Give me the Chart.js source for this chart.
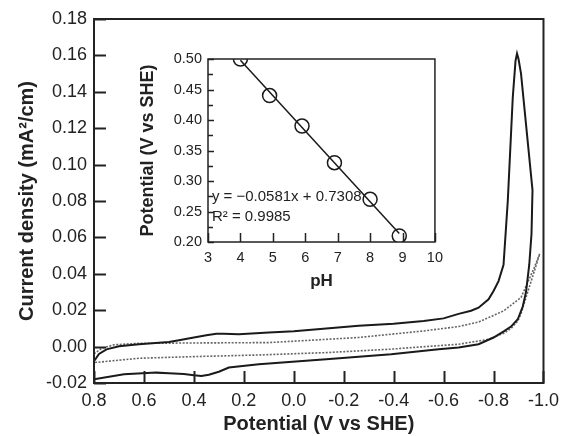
<!DOCTYPE html>
<html>
<head>
<meta charset="utf-8">
<script src="https://cdn.jsdelivr.net/npm/chart.js@4/dist/chart.umd.min.js"></script>
<style>
  body { margin: 0; background: #fff; }
  #wrap { position: relative; width: 566px; height: 436px; }
  #main { position: absolute; left: 0; top: 0; }
  #inset { position: absolute; left: 130px; top: 40px; }
</style>
</head>
<body>
<div id="wrap">
  <canvas id="main" width="566" height="436"></canvas>
  <canvas id="inset" width="320" height="260"></canvas>
</div>
<script>
// solid CV curve (forward scan then return), potential V vs SHE / current density
const solidPotential = [0.80, 0.78, 0.75, 0.70, 0.62, 0.50, 0.46, 0.40, 0.35, 0.31, 0.28, 0.22, 0.10, 0.00, -0.26, -0.40, -0.52, -0.60, -0.66, -0.71, -0.74, -0.78, -0.80, -0.82, -0.84, -0.857, -0.877, -0.888, -0.894, -0.90, -0.91, -0.956, -0.952, -0.943, -0.93, -0.917, -0.897, -0.87, -0.844, -0.80, -0.74, -0.66, -0.58, -0.39, -0.13, 0.14, 0.26, 0.30, 0.34, 0.37, 0.40, 0.44, 0.50, 0.55, 0.68, 0.80];
const solidCurrent = [-0.008, -0.004, -0.0015, 0.0002, 0.0013, 0.0025, 0.0035, 0.005, 0.0062, 0.007, 0.0071, 0.0068, 0.0077, 0.0085, 0.0114, 0.0125, 0.0141, 0.0155, 0.018, 0.0197, 0.0214, 0.026, 0.0306, 0.036, 0.045, 0.080, 0.137, 0.157, 0.161, 0.158, 0.150, 0.086, 0.062, 0.045, 0.030, 0.022, 0.015, 0.011, 0.0086, 0.005, 0.0013, -0.0005, -0.0014, -0.0042, -0.0069, -0.0097, -0.0115, -0.0138, -0.0155, -0.0162, -0.0158, -0.015, -0.0146, -0.0143, -0.0152, -0.018];

// dotted CV curve
const dottedPotential = [0.80, 0.77, 0.72, 0.62, 0.40, 0.10, -0.26, -0.52, -0.66, -0.74, -0.84, -0.91, -0.963, -0.985, -0.96, -0.93, -0.91, -0.897, -0.87, -0.844, -0.78, -0.66, -0.39, -0.13, 0.14, 0.40, 0.62, 0.80];
const dottedCurrent = [-0.004, -0.001, 0.001, 0.0018, 0.002, 0.0022, 0.005, 0.0086, 0.011, 0.0135, 0.0196, 0.027, 0.0434, 0.051, 0.040, 0.027, 0.018, 0.014, 0.010, 0.0075, 0.004, 0.0013, -0.0014, -0.0033, -0.0046, -0.0055, -0.0064, -0.0088];

// inset: peak potential vs pH
const pH = [4, 4.9, 5.9, 6.9, 8, 8.9];
const peakPotential = [0.50, 0.44, 0.39, 0.33, 0.27, 0.21];
const fitPH = [4, 8.9];
const fitPotential = [0.498, 0.214];
const fitLabels = ['y = \u22120.0581x + 0.7308', 'R\u00B2 = 0.9985'];

const pts = (xs, ys) => xs.map((x, i) => ({ x: x, y: ys[i] }));
const fmt = d => v => (Math.abs(v) < 1e-9 ? 0 : v).toFixed(d);

const frameTicks = {
  id: 'frameTicks',
  afterDatasetsDraw(chart, args, opts) {
    const { ctx, chartArea: a, scales } = chart;
    ctx.save();
    ctx.strokeStyle = opts.color;
    ctx.lineWidth = opts.width;
    ctx.beginPath();
    scales.x.ticks.forEach(t => {
      const px = Math.round(scales.x.getPixelForValue(t.value)) + 0.5;
      ctx.moveTo(px, a.bottom);
      ctx.lineTo(px, a.bottom - opts.xLen);
    });
    const yt = scales.y.ticks;
    yt.forEach((t, i) => {
      const py = Math.round(scales.y.getPixelForValue(t.value)) + 0.5;
      ctx.moveTo(a.left, py);
      ctx.lineTo(a.left + opts.yLen, py);
      if (opts.minorY && i < yt.length - 1) {
        const pm = Math.round(scales.y.getPixelForValue((t.value + yt[i + 1].value) / 2)) + 0.5;
        ctx.moveTo(a.left, pm);
        ctx.lineTo(a.left + opts.minorY, pm);
      }
    });
    ctx.stroke();
    ctx.strokeRect(a.left, a.top, a.width, a.height);
    if (opts.labels) {
      ctx.fillStyle = '#222';
      ctx.font = opts.labelFont;
      ctx.textBaseline = 'middle';
      opts.labels.forEach(l => {
        ctx.fillText(l.text, scales.x.getPixelForValue(l.x), scales.y.getPixelForValue(l.y));
      });
    }
    ctx.restore();
  }
};

const font = 'Liberation Sans, Arial, sans-serif';

new Chart(document.getElementById('main'), {
  type: 'scatter',
  data: {
    datasets: [
      {
        data: pts(solidPotential, solidCurrent),
        showLine: true, borderColor: '#1a1a1a', borderWidth: 2,
        pointRadius: 0, tension: 0
      },
      {
        data: pts(dottedPotential, dottedCurrent),
        showLine: true, borderColor: '#666', borderWidth: 1.6, borderDash: [2, 1.5],
        pointRadius: 0, tension: 0
      }
    ]
  },
  options: {
    responsive: false,
    animation: false,
    devicePixelRatio: 1,
    layout: { padding: { top: 19, right: 20, left: 0, bottom: 0 } },
    plugins: {
      legend: { display: false },
      tooltip: { enabled: false },
      frameTicks: { color: '#222', width: 2, xLen: 12, yLen: 12 }
    },
    scales: {
      x: {
        type: 'linear', reverse: true, min: -1.0, max: 0.8,
        grid: { display: false, drawTicks: false },
        border: { display: false },
        ticks: { stepSize: 0.2, padding: 7, color: '#222', font: { family: font, size: 18 },
          callback: fmt(1), maxRotation: 0 },
        title: { display: true, text: 'Potential (V vs SHE)', color: '#222',
          font: { family: font, size: 20, weight: 'bold' }, padding: { top: 0, bottom: 0 } },
        afterFit: s => { s.height = 53; }
      },
      y: {
        type: 'linear', min: -0.02, max: 0.18,
        grid: { display: false, drawTicks: false },
        border: { display: false },
        ticks: { stepSize: 0.02, padding: 7, color: '#222', font: { family: font, size: 18 },
          callback: fmt(2) },
        title: { display: true, text: 'Current density (mA\u00B2/cm)', color: '#222',
          font: { family: font, size: 20, weight: 'bold' }, padding: { top: 15, bottom: 0 } },
        afterFit: s => { s.width = 94; }
      }
    }
  },
  plugins: [frameTicks]
});

new Chart(document.getElementById('inset'), {
  type: 'scatter',
  data: {
    datasets: [
      {
        data: pts(fitPH, fitPotential),
        showLine: true, borderColor: '#1a1a1a', borderWidth: 1.5,
        pointRadius: 0, tension: 0
      },
      {
        data: pts(pH, peakPotential),
        showLine: false, pointRadius: 7, pointBorderWidth: 1.5,
        pointBorderColor: '#1a1a1a', pointBackgroundColor: 'rgba(0,0,0,0)'
      }
    ]
  },
  options: {
    responsive: false,
    animation: false,
    devicePixelRatio: 1,
    layout: { padding: { top: 19, right: 15, left: 0, bottom: 0 } },
    plugins: {
      legend: { display: false },
      tooltip: { enabled: false },
      frameTicks: {
        color: '#222', width: 1.5, xLen: 9, yLen: 6, minorY: 5,
        labelFont: '15px ' + font,
        labels: [
          { text: fitLabels[0], x: 3.12, y: 0.274 },
          { text: fitLabels[1], x: 3.12, y: 0.241 }
        ]
      }
    },
    scales: {
      x: {
        type: 'linear', min: 3, max: 10,
        grid: { display: false, drawTicks: false },
        border: { display: false },
        ticks: { stepSize: 1, padding: 7, color: '#222', font: { family: font, size: 14.5 }, maxRotation: 0 },
        title: { display: true, text: 'pH', color: '#222',
          font: { family: font, size: 17, weight: 'bold' }, padding: { top: 0, bottom: 8 } },
        afterFit: s => { s.height = 58; }
      },
      y: {
        type: 'linear', min: 0.2, max: 0.5,
        grid: { display: false, drawTicks: false },
        border: { display: false },
        ticks: { stepSize: 0.05, padding: 6, color: '#222', font: { family: font, size: 14.5 },
          callback: fmt(2) },
        title: { display: true, text: 'Potential (V vs SHE)', color: '#222',
          font: { family: font, size: 18, weight: 'bold' }, padding: { top: 7, bottom: 0 } },
        afterFit: s => { s.width = 78; }
      }
    }
  },
  plugins: [frameTicks]
});
</script>
</body>
</html>
